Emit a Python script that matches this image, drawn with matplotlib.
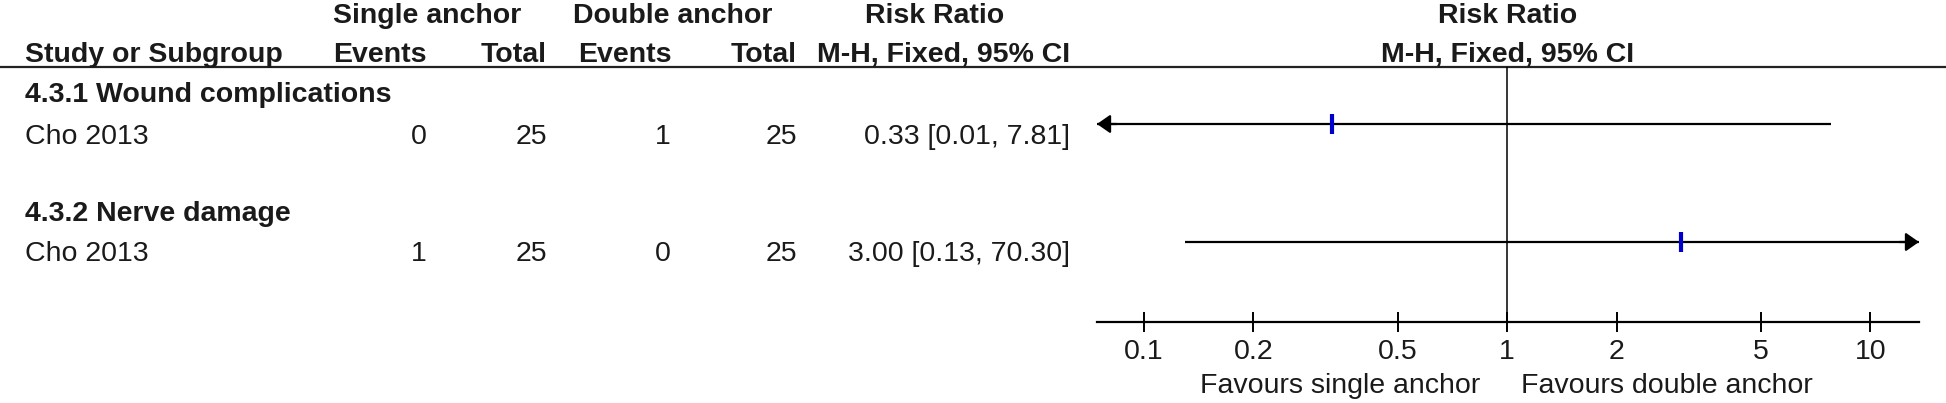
import matplotlib
matplotlib.use("Agg")
import matplotlib.pyplot as plt
from matplotlib.ticker import NullLocator

# data
subgroups = ["4.3.1 Wound complications", "4.3.2 Nerve damage"]
studies = ["Cho 2013", "Cho 2013"]
single_events = [0, 1]
single_total = [25, 25]
double_events = [1, 0]
double_total = [25, 25]
rr = [0.33, 3.00]
ci_low = [0.01, 0.13]
ci_high = [7.81, 70.30]
tick_vals = [0.1, 0.2, 0.5, 1, 2, 5, 10]
tick_labels = ["0.1", "0.2", "0.5", "1", "2", "5", "10"]
left_label = "Favours single anchor"
right_label = "Favours double anchor"

# layout (pixels)
W, H = 1946, 403
FS = 20.5
plt.rcParams["font.family"] = ["Liberation Sans", "DejaVu Sans"]

group_y = [102, 221]
study_y = [144, 261]
line_y = [124, 242]
rule_y = 67
axis_y = 322
xmin, xmax = 0.0743, 13.6

def main():
	fig = plt.figure(figsize=(W/100, H/100), dpi=100)
	tab = fig.add_axes([0, 0, 1, 1])
	tab.set_xlim(0, W)
	tab.set_ylim(H, 0)
	tab.axis("off")

	bold = dict(fontsize=FS, fontweight="bold", va="baseline", color="#1a1a1a")
	reg = dict(fontsize=FS, va="baseline", color="#1a1a1a")

	# header
	tab.text(333, 23, "Single anchor", ha="left", **bold)
	tab.text(573, 23, "Double anchor", ha="left", **bold)
	tab.text(935, 23, "Risk Ratio", ha="center", **bold)
	tab.text(25, 62, "Study or Subgroup", ha="left", **bold)
	tab.text(427, 62, "Events", ha="right", **bold)
	tab.text(547, 62, "Total", ha="right", **bold)
	tab.text(672, 62, "Events", ha="right", **bold)
	tab.text(797, 62, "Total", ha="right", **bold)
	tab.text(1070, 62, "M-H, Fixed, 95% CI", ha="right", **bold)
	tab.axhline(rule_y, color="#222222", lw=1.6)

	# table rows
	for i in range(len(studies)):
		tab.text(25, group_y[i], subgroups[i], ha="left", **bold)
		tab.text(25, study_y[i], studies[i], ha="left", **reg)
		tab.text(427, study_y[i], str(single_events[i]), ha="right", **reg)
		tab.text(547, study_y[i], str(single_total[i]), ha="right", **reg)
		tab.text(671, study_y[i], str(double_events[i]), ha="right", **reg)
		tab.text(797, study_y[i], str(double_total[i]), ha="right", **reg)
		tab.text(1070, study_y[i], f"{rr[i]:.2f} [{ci_low[i]:.2f}, {ci_high[i]:.2f}]", ha="right", **reg)

	tab.text(1480, 393, left_label, ha="right", **reg)
	tab.text(1521, 393, right_label, ha="left", **reg)

	# forest panel
	fa = fig.add_axes([1097/W, 0, 822/W, 1])
	fa.set_xscale("log")
	fa.set_xlim(xmin, xmax)
	fa.set_ylim(H, 0)
	fa.patch.set_visible(False)
	for s in ["top", "left", "right"]:
		fa.spines[s].set_visible(False)
	fa.spines["bottom"].set_position(("data", axis_y))
	fa.spines["bottom"].set_linewidth(1.6)
	fa.set_yticks([])
	fa.set_xticks(tick_vals)
	fa.set_xticklabels(tick_labels)
	fa.xaxis.set_minor_locator(NullLocator())
	fa.tick_params(axis="x", direction="inout", length=15, width=1.4, pad=5,
		labelsize=FS, labelcolor="#1a1a1a")

	fa.text(1, 23, "Risk Ratio", ha="center", **bold)
	fa.text(1, 62, "M-H, Fixed, 95% CI", ha="center", **bold)

	fa.vlines(1, rule_y, axis_y, color="black", lw=1.1)

	for i in range(len(rr)):
		y = line_y[i]
		lo = max(ci_low[i], xmin)
		hi = min(ci_high[i], xmax)
		fa.hlines(y, lo, hi, color="black", lw=1.6)
		arrow = dict(arrowstyle="-|>,head_length=0.4,head_width=0.28", mutation_scale=20,
			color="black", shrinkA=0, shrinkB=0, lw=1.6)
		if ci_low[i] < xmin:
			fa.annotate("", xy=(xmin, y), xytext=(14, 0), textcoords="offset points", arrowprops=arrow)
		if ci_high[i] > xmax:
			fa.annotate("", xy=(xmax, y), xytext=(-14, 0), textcoords="offset points", arrowprops=arrow)
		fa.plot(rr[i], y, marker="|", ms=14.5, mew=3, color="#0000cc")

	fig.savefig("out.png", dpi=100)
	plt.close()

if __name__ == "__main__":
	main()
